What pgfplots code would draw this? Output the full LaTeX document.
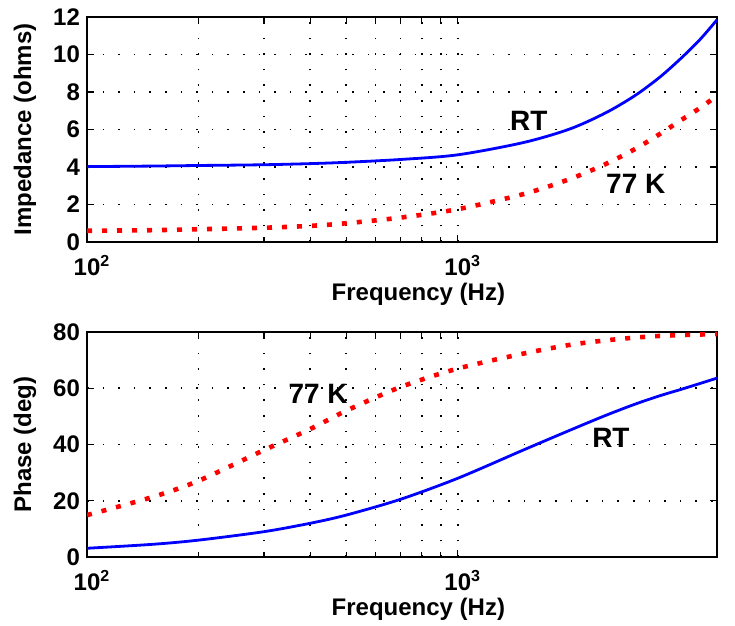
\documentclass[border=0pt]{standalone}
\usepackage{fontspec}
\setmainfont{Liberation Sans}
\usepackage{pgfplots}
\pgfplotsset{compat=1.18}

\tikzset{
  rt/.style={blue, line width=1.4pt},
  cold/.style={red, line width=2.3pt, dash pattern=on 2.5pt off 5pt},
  txt/.style={font=\bfseries\fontsize{14}{16}\selectfont, inner sep=0pt},
}

\pgfplotsset{
  every axis/.append style={
    scale only axis,
    width=315pt, height=112.5pt,
    xmin=100, xmax=5000,
    xtick={100,1000},
    xticklabels={10\rlap{\textsuperscript{2}},10\rlap{\textsuperscript{3}}},
    xmajorgrids=true, xminorgrids=true, ymajorgrids=true,
    major grid style={black, line width=0.8pt, dash pattern=on 0.8pt off 7pt},
    minor grid style={black, line width=0.8pt, dash pattern=on 0.8pt off 7pt},
    axis line style={line width=1pt},
    tick align=inside, xtick pos=both, ytick pos=both,
    major tick length=3.5pt, minor tick length=2.5pt,
    tick style={black, line width=0.6pt},
    tick label style={font=\bfseries\fontsize{12}{14}\selectfont},
    label style={font=\bfseries\fontsize{12}{14}\selectfont},
    xticklabel style={inner sep=0pt, yshift=-6.5pt},
    xlabel={Frequency (Hz)},
    xlabel style={at={(axis description cs:0.526,0)}, anchor=base, yshift=-29.5pt},
    ylabel style={at={(axis description cs:-0.0984,0.5)}, anchor=center},
  },
}

\begin{document}
\begin{tikzpicture}
\useasboundingbox (-43.5pt,-34.5pt) rectangle (324pt,278.5pt);

% impedance
\begin{semilogxaxis}[at={(0,157.5pt)},
  /pgf/number format/assume math mode=true,
  ymin=0, ymax=12, ytick={0,2,...,12},
  ylabel={Impedance (ohms)}]
\addplot[rt, smooth] coordinates {
  (100,4.02)(150,4.05)(200,4.08)(300,4.12)(400,4.18)(500,4.25)(700,4.40)
  (1000,4.65)(1500,5.30)(2000,6.02)(2500,6.88)(3000,7.80)(3500,8.78)
  (4000,9.80)(4500,10.80)(5000,11.85)};
\addplot[cold, smooth] coordinates {
  (100,0.60)(150,0.63)(200,0.68)(300,0.76)(400,0.86)(500,1.00)(700,1.30)
  (1000,1.75)(1500,2.55)(2000,3.35)(2500,4.15)(3000,4.95)(3500,5.75)
  (4000,6.50)(4500,7.15)(5000,7.80)};
\node[txt] at (axis cs:1555,6.47) {RT};
\node[txt] at (axis cs:3020,3.09) {77 K};
\end{semilogxaxis}

% phase
\begin{semilogxaxis}[at={(0,0)},
  /pgf/number format/assume math mode=true,
  ymin=0, ymax=80, ytick={0,20,...,80},
  ylabel={Phase (deg)}]
\addplot[rt, smooth] coordinates {
  (100,3.1)(150,4.5)(200,6.0)(300,9.0)(400,12.0)(500,14.9)(700,20.5)
  (1000,28.0)(1500,38.0)(2000,45.0)(2500,50.3)(3000,54.3)(3500,57.3)
  (4000,59.6)(4500,61.7)(5000,63.6)};
\addplot[cold, smooth] coordinates {
  (100,14.9)(150,21.3)(200,27.1)(300,38.0)(400,45.5)(500,52.0)(700,60.4)
  (1000,67.0)(1500,72.3)(2000,75.4)(2500,77.0)(3000,78.0)(3500,78.6)
  (4000,78.9)(4500,79.1)(5000,79.3)};
\node[txt] at (axis cs:420,58) {77 K};
\node[txt] at (axis cs:2588,42.5) {RT};
\end{semilogxaxis}
\end{tikzpicture}
\end{document}
